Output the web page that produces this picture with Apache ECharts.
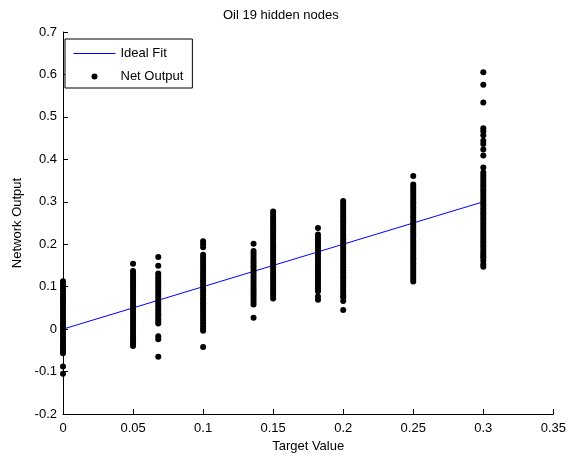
<!DOCTYPE html>
<html>
<head>
<meta charset="utf-8">
<script src="https://cdn.jsdelivr.net/npm/echarts@6/dist/echarts.min.js"></script>
<style>
  html, body { margin: 0; padding: 0; background: #fff; }
  #chart { width: 569px; height: 458px; }
</style>
</head>
<body>
<div id="chart"></div>
<script>
var targets = [0, 0.05, 0.068, 0.1, 0.136, 0.15, 0.182, 0.2, 0.25, 0.3];

var out000 = [0.113, 0.107, 0.101, 0.095, 0.089, 0.083, 0.077, 0.071, 0.065, 0.059, 0.053, 0.047, 0.041, 0.035,
              0.029, 0.023, 0.017, 0.011, 0.005, -0.001, -0.007, -0.013, -0.019, -0.025, -0.031, -0.037, -0.043,
              -0.049, -0.054, -0.057, -0.088, -0.105];
var out005 = [0.154, 0.137, 0.131, 0.125, 0.119, 0.113, 0.107, 0.101, 0.095, 0.089, 0.083, 0.077, 0.071, 0.065,
              0.059, 0.053, 0.047, 0.041, 0.035, 0.029, 0.023, 0.017, 0.011, 0.005, -0.001, -0.007, -0.013, -0.019,
              -0.025, -0.031, -0.036, -0.040];
var out068 = [0.170, 0.149, 0.131, 0.125, 0.119, 0.113, 0.107, 0.101, 0.095, 0.089, 0.083, 0.077, 0.071, 0.065,
              0.059, 0.053, 0.047, 0.041, 0.035, 0.029, 0.023, 0.018, 0.013, -0.017, -0.024, -0.065];
var out010 = [0.207, 0.200, 0.193, 0.175, 0.169, 0.163, 0.157, 0.151, 0.145, 0.139, 0.133, 0.127, 0.121, 0.115,
              0.109, 0.103, 0.097, 0.091, 0.085, 0.079, 0.073, 0.067, 0.061, 0.055, 0.049, 0.043, 0.037, 0.031,
              0.025, 0.019, 0.013, 0.007, 0.001, -0.004, -0.042];
var out136 = [0.201, 0.184, 0.178, 0.172, 0.166, 0.160, 0.154, 0.148, 0.142, 0.136, 0.130, 0.124, 0.118, 0.112,
              0.106, 0.100, 0.094, 0.088, 0.082, 0.076, 0.070, 0.064, 0.058, 0.027];
var out015 = [0.277, 0.271, 0.265, 0.259, 0.253, 0.247, 0.241, 0.235, 0.229, 0.223, 0.217, 0.211, 0.205, 0.199,
              0.193, 0.187, 0.181, 0.175, 0.169, 0.163, 0.157, 0.151, 0.145, 0.139, 0.133, 0.127, 0.121, 0.115,
              0.109, 0.103, 0.097, 0.091, 0.085, 0.079, 0.072];
var out182 = [0.238, 0.223, 0.217, 0.211, 0.205, 0.199, 0.193, 0.187, 0.181, 0.175, 0.169, 0.163, 0.157, 0.151,
              0.145, 0.139, 0.133, 0.127, 0.121, 0.115, 0.109, 0.103, 0.097, 0.092, 0.089, 0.077, 0.069];
var out020 = [0.302, 0.296, 0.290, 0.284, 0.278, 0.272, 0.266, 0.260, 0.254, 0.248, 0.242, 0.236, 0.230, 0.224,
              0.218, 0.212, 0.206, 0.200, 0.194, 0.188, 0.182, 0.176, 0.170, 0.164, 0.158, 0.152, 0.146, 0.140,
              0.134, 0.128, 0.122, 0.116, 0.110, 0.104, 0.098, 0.092, 0.086, 0.080, 0.075, 0.066, 0.045];
var out025 = [0.361, 0.341, 0.335, 0.329, 0.323, 0.317, 0.311, 0.305, 0.299, 0.293, 0.287, 0.281, 0.275, 0.269,
              0.263, 0.257, 0.251, 0.245, 0.239, 0.233, 0.227, 0.221, 0.215, 0.209, 0.203, 0.197, 0.191, 0.185,
              0.179, 0.173, 0.167, 0.161, 0.155, 0.149, 0.143, 0.137, 0.131, 0.125, 0.119, 0.112];
var out030 = [0.605, 0.576, 0.534, 0.473, 0.466, 0.457, 0.444, 0.436, 0.423, 0.409, 0.381, 0.369, 0.363, 0.357,
              0.351, 0.345, 0.339, 0.333, 0.327, 0.321, 0.315, 0.309, 0.303, 0.297, 0.291, 0.285, 0.279, 0.273,
              0.267, 0.261, 0.255, 0.249, 0.243, 0.237, 0.231, 0.225, 0.219, 0.213, 0.207, 0.201, 0.195, 0.189,
              0.183, 0.177, 0.172, 0.168, 0.161, 0.153, 0.147];

var outputs = [out000, out005, out068, out010, out136, out015, out182, out020, out025, out030];

// ideal fit line
var fitX = [0, 0.3];
var fitY = [0, 0.3];

var xTicks = { min: 0, max: 0.35, step: 0.05 };
var yTicks = { min: -0.2, max: 0.7, step: 0.1 };

var netPoints = [];
for (var i = 0; i < targets.length; i++) {
    for (var j = 0; j < outputs[i].length; j++) {
        netPoints.push([targets[i], outputs[i][j]]);
    }
}
var fitPoints = fitX.map(function (x, k) { return [x, fitY[k]]; });

var font = 'Liberation Sans, Arial, Helvetica, sans-serif';
var chart = echarts.init(document.getElementById('chart'), null, { renderer: 'canvas' });

var op = {
    animation: false,
    backgroundColor: '#fff',
    title: {
        text: 'Oil 19 hidden nodes',
        left: 223,
        top: 9,
        padding: 0,
        textStyle: { fontFamily: font, fontSize: 13, fontWeight: 'normal', color: '#000' }
    },
    legend: {
        orient: 'vertical',
        left: 65,
        top: 39,
        padding: [8, 9, 5, 8],
        itemGap: 10,
        itemWidth: 42,
        itemHeight: 6,
        borderColor: '#000',
        borderWidth: 1,
        backgroundColor: '#fff',
        textStyle: { fontFamily: font, fontSize: 13, color: '#000', lineHeight: 13 },
        data: [
            // line sample only: hide the marker drawn in the middle
            { name: 'Ideal Fit', lineStyle: { color: '#0000ff', width: 1 }, itemStyle: { opacity: 0 } },
            { name: 'Net Output', icon: 'circle', itemStyle: { color: '#000' } }
        ]
    },
    grid: {
        left: 63,
        right: 15,
        top: 32,
        bottom: 40
    },
    xAxis: {
        type: 'value',
        min: xTicks.min,
        max: xTicks.max,
        interval: xTicks.step,
        name: 'Target Value',
        nameLocation: 'middle',
        nameGap: 26,
        nameTextStyle: { fontFamily: font, fontSize: 13, color: '#000' },
        axisLine: { show: true, onZero: false, lineStyle: { color: '#000', width: 1 } },
        axisTick: { show: true, inside: true, length: 5, lineStyle: { color: '#000' } },
        axisLabel: { fontFamily: font, fontSize: 13, color: '#000', margin: 8 },
        splitLine: { show: false }
    },
    yAxis: {
        type: 'value',
        min: yTicks.min,
        max: yTicks.max,
        interval: yTicks.step,
        name: 'Network Output',
        nameLocation: 'middle',
        nameGap: 38,
        nameTextStyle: { fontFamily: font, fontSize: 13, color: '#000' },
        axisLine: { show: true, onZero: false, lineStyle: { color: '#000', width: 1 } },
        axisTick: { show: true, inside: true, length: 5, lineStyle: { color: '#000' } },
        axisLabel: { fontFamily: font, fontSize: 13, color: '#000', margin: 6 },
        splitLine: { show: false }
    },
    series: [
        {
            name: 'Ideal Fit',
            type: 'line',
            data: fitPoints,
            symbol: 'none',
            lineStyle: { color: '#0000ff', width: 1 },
            itemStyle: { color: '#0000ff' },
            z: 2
        },
        {
            name: 'Net Output',
            type: 'scatter',
            data: netPoints,
            symbol: 'circle',
            symbolSize: 6,
            itemStyle: { color: '#000', opacity: 1 },
            z: 3
        }
    ]
};
chart.setOption(op);
</script>
</body>
</html>
